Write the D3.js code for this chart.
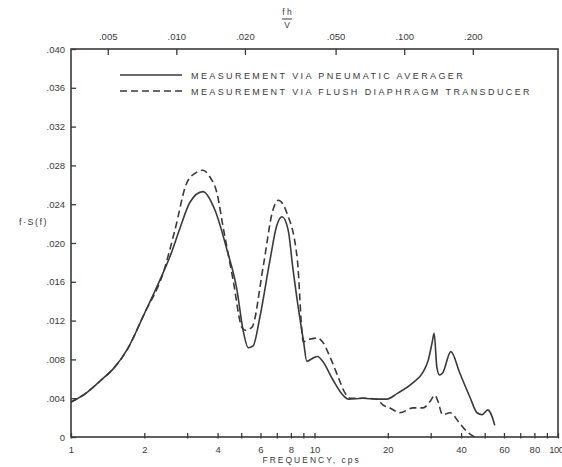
<!DOCTYPE html>
<html>
<head>
<meta charset="utf-8">
<script src="https://cdn.jsdelivr.net/npm/d3@7"></script>
<style>
  body { margin: 0; background: #fff; }
  text { font-family: "Liberation Sans", "DejaVu Sans", sans-serif; fill: #3a3a3a; }
</style>
</head>
<body>
<div class="chart"></div>
<script>
//Chart data.
var freqSolid = [1, 1.15, 1.32, 1.5, 1.7, 2.0, 2.32, 2.55, 2.8, 3.08, 3.48, 3.9, 4.37, 4.8, 5.09, 5.35, 5.6, 5.97, 6.56, 7.0, 7.36, 7.8, 8.15, 8.7, 9.0, 9.3, 9.8, 10.3, 10.8, 11.9, 13.1, 13.8, 15.8, 18.0, 19.8, 21.9, 25.4, 27.9, 29.3, 30.4, 31.0, 31.8, 32.6, 33.6, 36.3, 39.5, 43.5, 46.5, 48.8, 51.5, 52.8, 55];
var valSolid = [.0036, .0045, .0058, .0071, .0090, .0127, .0162, .0186, .0215, .0242, .0253, .0234, .0193, .0152, .0110, .0092, .0094, .0124, .0182, .0218, .0227, .0213, .0174, .0123, .0100, .0078, .0081, .0083, .0078, .0059, .0043, .0039, .0040, .0039, .0039, .0045, .0056, .0067, .0079, .0097, .0107, .0072, .0064, .0066, .0088, .0066, .0041, .0025, .0023, .0028, .0025, .0012];

var freqDashed = [1, 1.15, 1.32, 1.5, 1.7, 2.0, 2.39, 2.67, 2.99, 3.29, 3.48, 3.72, 3.98, 4.21, 4.63, 5.03, 5.18, 5.53, 6.15, 6.75, 7.1, 7.7, 8.5, 9.0, 9.3, 10.3, 10.8, 11.6, 12.5, 13.3, 14.0, 15.8, 18.0, 19.1, 20.4, 22.4, 25.4, 27.9, 29.7, 31.2, 32.0, 33.6, 36.0, 39.5, 42.5, 45.5];
var valDashed = [.0036, .0045, .0058, .0071, .0090, .0127, .0169, .0213, .0262, .0273, .0275, .0268, .0251, .0217, .0162, .0113, .0110, .0113, .0175, .0234, .0244, .0231, .0183, .0098, .0100, .0102, .0098, .0082, .0062, .0046, .0040, .0040, .0039, .0033, .0030, .0025, .0030, .0030, .0036, .0043, .0038, .0023, .0025, .0014, .0005, 0];

var freqTicks = [1, 2, 3, 4, 5, 6, 7, 8, 9, 10, 20, 30, 40, 50, 60, 70, 80, 90, 100];
var freqLabels = [1, 2, 4, 6, 8, 10, 20, 40, 60, 80, 100];
var yTicks = [0, .004, .008, .012, .016, .020, .024, .028, .032, .036, .040];
var fhvTicks = [.005, .010, .020, .050, .100, .200];
var seriesNames = ["MEASUREMENT VIA PNEUMATIC AVERAGER", "MEASUREMENT VIA FLUSH DIAPHRAGM TRANSDUCER"];

//SVG size and margins.
var svgWidth = 562;
var svgHeight = 467;
var margin = { top: 49, right: 4, bottom: 30, left: 71 };
var width = svgWidth - margin.left - margin.right;
var height = svgHeight - margin.top - margin.bottom;

var svg = d3.select(".chart")
  .append("svg")
  .attr("width", svgWidth)
  .attr("height", svgHeight);

var chart = svg.append("g")
  .attr("transform", "translate(" + margin.left + "," + margin.top + ")");

//Scales.
var x = d3.scaleLog().domain([1, 100]).range([0, width]);
var xTop = d3.scaleLog().domain([0.00345, 0.473]).range([0, width]);
var y = d3.scaleLinear().domain([0, 0.040]).range([height, 0]);

var fmt = function(v) { return v === 0 ? "0" : d3.format(".3f")(v).replace(/^0/, ""); };

//Bottom axis.
var bottomAxis = d3.axisBottom(x)
  .tickValues(freqTicks)
  .tickSizeInner(-5)
  .tickSizeOuter(0)
  .tickPadding(9)
  .tickFormat(function(d) { return freqLabels.indexOf(d) >= 0 ? d : ""; });

var gb = chart.append("g")
  .attr("transform", "translate(0," + height + ")")
  .call(bottomAxis);
gb.selectAll("line").attr("y2", -4).attr("y1", 1.5);
gb.selectAll("text")
  .filter(function(d) { return d === 100; })
  .attr("text-anchor", "end")
  .attr("dx", 5)
  .attr("letter-spacing", -0.5);

//Left axis.
var leftAxis = d3.axisLeft(y)
  .tickValues(yTicks)
  .tickSizeInner(-5)
  .tickSizeOuter(0)
  .tickPadding(6)
  .tickFormat(fmt);
var gl = chart.append("g").call(leftAxis);

//Top axis.
var topAxis = d3.axisTop(xTop)
  .tickValues(fhvTicks)
  .tickSizeInner(-6)
  .tickSizeOuter(0)
  .tickPadding(9)
  .tickFormat(fmt);
var gt = chart.append("g").call(topAxis);

[gb, gl, gt].forEach(function(g) {
  g.select(".domain").remove();
  g.selectAll("line").attr("stroke", "#3a3a3a").attr("stroke-width", 1.3);
  g.selectAll("text").attr("font-size", 9.5).style("fill", "#3a3a3a");
});

//Frame.
chart.append("rect")
  .attr("width", width)
  .attr("height", height)
  .attr("fill", "none")
  .attr("stroke", "#3a3a3a")
  .attr("stroke-width", 1.6);

//Lines.
var line = d3.line()
  .x(function(d) { return x(d[0]); })
  .y(function(d) { return y(d[1]); })
  .curve(d3.curveMonotoneX);

chart.append("path")
  .datum(d3.zip(freqDashed, valDashed))
  .attr("d", line)
  .attr("fill", "none")
  .attr("stroke", "#3a3a3a")
  .attr("stroke-width", 1.6)
  .attr("stroke-dasharray", "7,4");

chart.append("path")
  .datum(d3.zip(freqSolid, valSolid))
  .attr("d", line)
  .attr("fill", "none")
  .attr("stroke", "#3a3a3a")
  .attr("stroke-width", 1.6);

//Legend.
var legend = chart.append("g").attr("transform", "translate(49,26)");
seriesNames.forEach(function(name, i) {
  var row = legend.append("g").attr("transform", "translate(0," + (i * 16) + ")");
  row.append("line")
    .attr("x1", 0).attr("x2", 62)
    .attr("stroke", "#3a3a3a")
    .attr("stroke-width", 1.6)
    .attr("stroke-dasharray", i === 1 ? "7,4" : null);
  row.append("text")
    .attr("x", 71)
    .attr("y", 3.5)
    .attr("font-size", 9)
    .attr("letter-spacing", 2.4)
    .text(name);
});

//Axis titles.
chart.append("text")
  .attr("x", x(10) - 52)
  .attr("y", height + 26)
  .attr("font-size", 8.5)
  .attr("letter-spacing", 2)
  .text("FREQUENCY, cps");

svg.append("text")
  .attr("x", 19)
  .attr("y", 225)
  .attr("font-size", 9)
  .attr("letter-spacing", 1.5)
  .text("f·S(f)");

svg.append("text")
  .attr("x", 287).attr("y", 15)
  .attr("text-anchor", "middle")
  .attr("font-size", 8.5)
  .text("f h");
svg.append("line")
  .attr("x1", 282).attr("x2", 292)
  .attr("y1", 19).attr("y2", 19)
  .attr("stroke", "#3a3a3a");
svg.append("text")
  .attr("x", 287).attr("y", 28)
  .attr("text-anchor", "middle")
  .attr("font-size", 8.5)
  .text("V");
</script>
</body>
</html>
